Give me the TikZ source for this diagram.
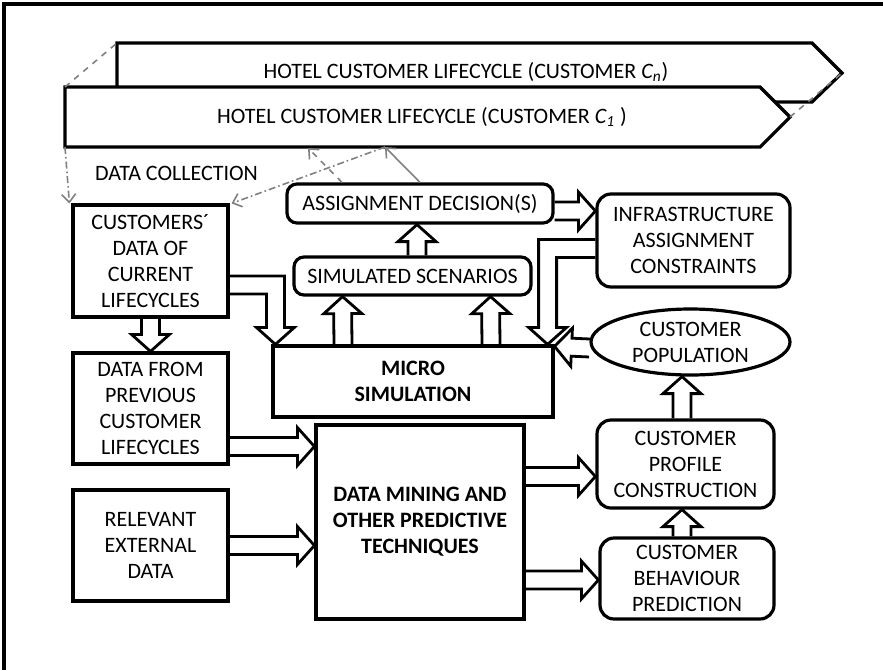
\documentclass[tikz,border=0pt]{standalone}
\usepackage{fontspec}
\setmainfont{Carlito}
\usetikzlibrary{calc,positioning,shapes.geometric,arrows.meta}

\newcommand{\dfont}{\fontsize{11}{13}\selectfont}

% hollow block arrow, straight
\newcommand{\blockarrow}[2]{%
  \draw[hollow] let \p1=#1, \p2=#2, \p3=($(\p2)!8.5pt!(\p1)$) in
    ($(\p1)!4.5pt!90:(\p2)$) -- ($(\p3)!4.5pt!90:(\p2)$) -- ($(\p3)!9.5pt!90:(\p2)$)
    -- (\p2) -- ($(\p3)!9.5pt!-90:(\p2)$) -- ($(\p3)!4.5pt!-90:(\p2)$)
    -- ($(\p1)!4.5pt!-90:(\p2)$);}

% hollow block arrow, sideways then down
\newcommand{\bentarrow}[2]{%
  \draw[hollow] let \p1=#1, \p2=#2, \n1={sign(\x2-\x1)} in
    (\x1,\y1+4.5pt) -- (\x2+\n1*4.5pt,\y1+4.5pt) -- (\x2+\n1*4.5pt,\y2+8.5pt)
    -- (\x2+\n1*9.5pt,\y2+8.5pt) -- (\x2,\y2) -- (\x2-\n1*9.5pt,\y2+8.5pt)
    -- (\x2-\n1*4.5pt,\y2+8.5pt) -- (\x2-\n1*4.5pt,\y1-4.5pt) -- (\x1,\y1-4.5pt);}

\begin{document}
\begin{tikzpicture}[x=0.5pt,y=-0.5pt,font=\dfont]

	\tikzstyle{box} = [rectangle, draw, line width=1.6pt, align=center, inner sep=0pt]
	\tikzstyle{rbox} = [box, rounded corners=5pt]
	\tikzstyle{bbox} = [box, font=\dfont\bfseries]
	\tikzstyle{hollow} = [draw, line width=1.4pt, line join=miter]
	\tikzstyle{feed} = [draw=gray, line width=0.8pt, >={Straight Barb[length=4pt,width=7pt]}]
	\tikzstyle{dashdot} = [feed, dash pattern=on 3.5pt off 1.5pt on 0.8pt off 1.5pt]

	\useasboundingbox (0,0) rectangle (883,670);
	\draw[line width=1.6pt] (4,670) -- (4,4) -- (883,4);

	% lifecycle banners
	\draw[line width=1.6pt, fill=white]
		(117,43) coordinate (bktl) -- (812,43) -- (842,73) coordinate (bktip) -- (812,102) -- (117,102) -- cycle;
	\node (cn) at (466,72) {HOTEL CUSTOMER LIFECYCLE (CUSTOMER \textit{C\textsubscript{n}})};
	\draw[line width=1.6pt, fill=white]
		(65,87) coordinate (frtl) -- (760,87) -- (790,117) coordinate (frtip) -- (760,147) -- (65,147) coordinate (frbl) -- cycle;
	\node (c1) at (422,117) {HOTEL CUSTOMER LIFECYCLE (CUSTOMER \textit{C\textsubscript{1}} )};
	\coordinate (dcin) at (385,147);
	\coordinate (asin) at (308,148);

	\node[anchor=west] (dc) at (88,173) {DATA COLLECTION};

	% boxes
	\node[box, minimum width=77.5pt, minimum height=56pt] (cust) at (150.5,261) {CUSTOMERS´\\DATA OF\\CURRENT\\LIFECYCLES};
	\node[box, minimum width=77.5pt, minimum height=55.5pt] (prev) at (150.5,408.5) {DATA FROM\\PREVIOUS\\CUSTOMER\\LIFECYCLES};
	\node[box, minimum width=77.5pt, minimum height=55.5pt] (ext) at (150.5,545.5) {RELEVANT\\EXTERNAL\\DATA};
	\node[rbox, minimum width=133pt, minimum height=19.5pt] (assign) at (420,203.5) {ASSIGNMENT DECISION(S)};
	\node[rbox, minimum width=118.5pt, minimum height=19pt] (sim) at (412.5,276) {SIMULATED SCENARIOS};
	\node[bbox, minimum width=140pt, minimum height=35.5pt] (micro) at (413,381.5) {MICRO\\SIMULATION};
	\node[bbox, minimum width=104pt, minimum height=97pt] (mining) at (420,522) {DATA MINING AND\\OTHER PREDICTIVE\\TECHNIQUES};
	\node[rbox, rounded corners=7pt, minimum width=96.5pt, minimum height=46.5pt] (infra) at (693.5,240.5) {INFRASTRUCTURE\\ASSIGNMENT\\CONSTRAINTS};
	\node[ellipse, draw, line width=1.6pt, inner sep=0pt, align=center, minimum width=99.5pt, minimum height=33pt] (pop) at (690.5,342) {CUSTOMER\\POPULATION};
	\node[rbox, rounded corners=7pt, minimum width=88.5pt, minimum height=44pt] (profile) at (685.5,464) {CUSTOMER\\PROFILE\\CONSTRUCTION};
	\node[rbox, rounded corners=7pt, minimum width=87pt, minimum height=40.5pt] (behav) at (687,578.5) {CUSTOMER\\BEHAVIOUR\\PREDICTION};

	% block arrows
	\blockarrow{(cust.south)}{(prev.north)}
	\bentarrow{([yshift=-12pt]cust.east)}{([xshift=2pt]micro.north west)}
	\blockarrow{([xshift=-35pt]micro.north)}{([xshift=-35pt]sim.south)}
	\blockarrow{([xshift=39pt]micro.north)}{([xshift=39pt]sim.south)}
	\blockarrow{([xshift=2.25pt]sim.north)}{([xshift=-1.5pt]assign.south)}
	\blockarrow{([yshift=-3.75pt]assign.east)}{([yshift=14.75pt]infra.west)}
	\bentarrow{([yshift=-4pt]infra.west)}{([xshift=-3.5pt]micro.north east)}
	\blockarrow{([yshift=-3pt]pop.west)}{([yshift=-1pt]micro.north east)}
	\blockarrow{([xshift=-1.75pt]profile.north)}{([xshift=-4.25pt]pop.south)}
	\blockarrow{([xshift=-2.5pt]behav.north)}{([xshift=-1.75pt]profile.south)}
	\blockarrow{([yshift=-19pt]prev.east)}{([yshift=37.75pt]mining.west)}
	\blockarrow{(ext.east)}{([yshift=-11.75pt]mining.west)}
	\blockarrow{([yshift=22.75pt]mining.east)}{([yshift=-6.25pt]profile.west)}
	\blockarrow{([yshift=-29pt]mining.east)}{([yshift=-0.75pt]behav.west)}

	% data flow to and from the lifecycles
	\draw[feed, dashed] (frtl) -- (bktl);
	\draw[feed, dashed] (frtip) -- (bktip);
	\draw[dashdot, ->] (frbl) -- ([xshift=-1pt]cust.north west);
	\draw[dashdot, ->] (dcin) -- ([xshift=1pt]cust.north east);
	\draw[feed, ->] (assign.north) -- (dcin);
	\draw[feed, dashed, ->] ([xshift=-39pt]assign.north) -- (asin);

\end{tikzpicture}
\end{document}
